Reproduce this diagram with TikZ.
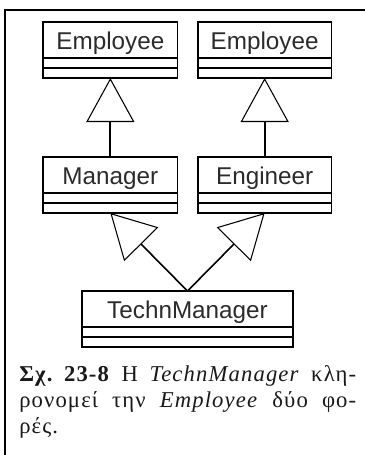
\documentclass[tikz,border=0pt]{standalone}
\usepackage{fontspec}
\setmainfont{Liberation Serif}[LetterSpace=5]
\setsansfont{Liberation Sans}
\usetikzlibrary{arrows.meta,calc}
\definecolor{inkgray}{HTML}{2B2B2B}
\frenchspacing
\begin{document}
\begin{tikzpicture}[x=0.75pt,y=-0.75pt,
  classbox/.style={draw=black, line width=1.1pt, inner sep=0pt, outer sep=0pt,
    minimum height=42pt, anchor=north west},
  sepline/.style={draw=black, line width=1.5pt},
  classname/.style={anchor=base, inner sep=0pt, text=inkgray,
    font=\sffamily\fontsize{18.2pt}{20pt}\selectfont},
  inherit/.style={line width=1.5pt,
    -{Triangle[open, length=33pt, width=36pt, line width=0.8pt]}},
  capline/.style={anchor=base west, inner sep=0pt, text=black!90,
    font=\fontsize{17pt}{20pt}\selectfont},
  frameline/.style={line width=1.9pt, line cap=rect}]
\useasboundingbox (0,0) rectangle (365,455);

% outer frame (top and left rules)
\draw[frameline] (365,10) -- (5,10) -- (5,455);

% classes
\node[classbox, minimum width=101pt] (emp1) at (43,22) {};
\node[classbox, minimum width=100pt] (emp2) at (198,22) {};
\node[classbox, minimum width=101pt] (mgr) at (43,157) {};
\node[classbox, minimum width=100pt] (eng) at (198,157) {};
\node[classbox, minimum width=158.25pt] (tm) at (82,291) {};

% compartment separators
\foreach \c in {emp1,emp2,mgr,eng,tm}{
  \draw[sepline] ($(\c.north west)+(0,36)$) -- ($(\c.north east)+(0,36)$);
  \draw[sepline] ($(\c.north west)+(0,46)$) -- ($(\c.north east)+(0,46)$);
}
% heavier side rules of TechnManager
\draw[line width=2.2pt] (tm.north west) -- (tm.south west);
\draw[line width=2.2pt] (tm.north east) -- (tm.south east);

% class names
\node[classname] (emp1name) at ($(emp1.north)+(0,27)$) {Employee};
\node[classname] (emp2name) at ($(emp2.north)+(0,27)$) {Employee};
\node[classname] (mgrname) at ($(mgr.north)+(0,27)$) {Manager};
\node[classname] (engname) at ($(eng.north)+(0,27)$) {Engineer};
\node[classname] (tmname) at ($(tm.north)+(0,27)$) {TechnManager};

% generalisation arrows
\draw[inherit] (mgr.north) -- (emp1.south);
\draw[inherit] (eng.north) -- (emp2.south);
\draw[inherit, line width=1.2pt] (tm.north) -- (mgr.south);
\draw[inherit, line width=1.2pt] (tm.north) -- (eng.south);

% caption
\node[capline] (cap1) at (19,381)
  {\makebox[252.75pt][s]{\textbf{Σχ. 23-8} Η \textit{TechnManager} κλη-}};
\node[capline] (cap2) at (19,407)
  {\makebox[252.75pt][s]{ρονομεί την \textit{Employee} δύο φο-}};
\node[capline] (cap3) at (19,433) {ρές.};
\end{tikzpicture}
\end{document}
